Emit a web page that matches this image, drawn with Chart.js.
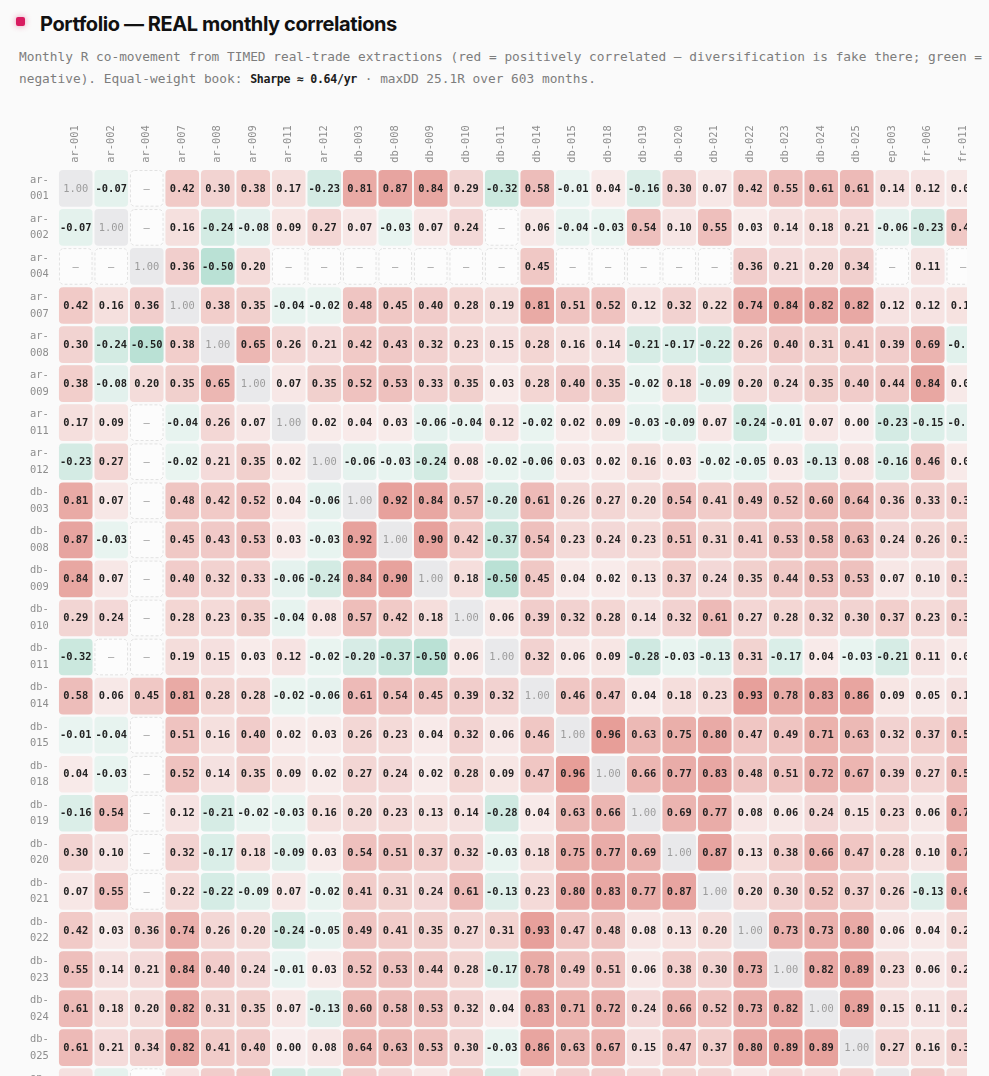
<!DOCTYPE html>
<html>
<head>
<meta charset="utf-8">
<script src="https://cdn.jsdelivr.net/npm/chart.js@4.4.1/dist/chart.umd.min.js"></script>
<style>
  html, body { margin:0; padding:0; background:#fafafa; width:989px; height:1076px; overflow:hidden; }
  #bullet { position:absolute; left:16px; top:17px; width:9px; height:9px; border-radius:2px; background:#d81b60; box-shadow:0 0 6px rgba(216,27,96,0.45); }
  #title { position:absolute; left:40px; top:11.5px; font:700 20px Inter, "Noto Sans", sans-serif; color:#111; letter-spacing:-0.4px; white-space:nowrap; }
  #sub { position:absolute; left:19px; top:46px; font:400 12.8px "DejaVu Sans Mono", monospace; line-height:22px; color:#7d7d7d; white-space:nowrap; }
  #sub b { color:#1c1c1c; font-weight:700; font-size:11.6px; letter-spacing:-0.3px; }
  #wrap { position:absolute; left:0; top:100px; width:967px; height:976px; overflow:hidden; }
  canvas { display:block; }
</style>
</head>
<body>
<div id="bullet"></div>
<div id="title">Portfolio — REAL monthly correlations</div>
<div id="sub">Monthly R co-movement from TIMED real-trade extractions (red = positively correlated — diversification is fake there; green =<br>negative). Equal-weight book: <b>Sharpe ≈ 0.64/yr</b> · maxDD 25.1R over 603 months.</div>
<div id="wrap"><canvas id="c" width="990" height="1010"></canvas></div>
<script>
// Strategies (columns); rows are the first 24 of them
const strategies = ['ar-001','ar-002','ar-004','ar-007','ar-008','ar-009','ar-011','ar-012','db-003','db-008','db-009','db-010','db-011','db-014','db-015','db-018','db-019','db-020','db-021','db-022','db-023','db-024','db-025','ep-003','fr-006','fr-011'];
const rowLabels = strategies.slice(0, 24);

// Correlation rows (null = not enough overlap, shown as "—")
const r_ar001 = [1.00,-0.07,null,0.42,0.30,0.38,0.17,-0.23,0.81,0.87,0.84,0.29,-0.32,0.58,-0.01,0.04,-0.16,0.30,0.07,0.42,0.55,0.61,0.61,0.14,0.12,0.06];
const r_ar002 = [-0.07,1.00,null,0.16,-0.24,-0.08,0.09,0.27,0.07,-0.03,0.07,0.24,null,0.06,-0.04,-0.03,0.54,0.10,0.55,0.03,0.14,0.18,0.21,-0.06,-0.23,0.45];
const r_ar004 = [null,null,1.00,0.36,-0.50,0.20,null,null,null,null,null,null,null,0.45,null,null,null,null,null,0.36,0.21,0.20,0.34,null,0.11,null];
const r_ar007 = [0.42,0.16,0.36,1.00,0.38,0.35,-0.04,-0.02,0.48,0.45,0.40,0.28,0.19,0.81,0.51,0.52,0.12,0.32,0.22,0.74,0.84,0.82,0.82,0.12,0.12,0.13];
const r_ar008 = [0.30,-0.24,-0.50,0.38,1.00,0.65,0.26,0.21,0.42,0.43,0.32,0.23,0.15,0.28,0.16,0.14,-0.21,-0.17,-0.22,0.26,0.40,0.31,0.41,0.39,0.69,-0.10];
const r_ar009 = [0.38,-0.08,0.20,0.35,0.65,1.00,0.07,0.35,0.52,0.53,0.33,0.35,0.03,0.28,0.40,0.35,-0.02,0.18,-0.09,0.20,0.24,0.35,0.40,0.44,0.84,0.05];
const r_ar011 = [0.17,0.09,null,-0.04,0.26,0.07,1.00,0.02,0.04,0.03,-0.06,-0.04,0.12,-0.02,0.02,0.09,-0.03,-0.09,0.07,-0.24,-0.01,0.07,0.00,-0.23,-0.15,-0.08];
const r_ar012 = [-0.23,0.27,null,-0.02,0.21,0.35,0.02,1.00,-0.06,-0.03,-0.24,0.08,-0.02,-0.06,0.03,0.02,0.16,0.03,-0.02,-0.05,0.03,-0.13,0.08,-0.16,0.46,0.04];
const r_db003 = [0.81,0.07,null,0.48,0.42,0.52,0.04,-0.06,1.00,0.92,0.84,0.57,-0.20,0.61,0.26,0.27,0.20,0.54,0.41,0.49,0.52,0.60,0.64,0.36,0.33,0.33];
const r_db008 = [0.87,-0.03,null,0.45,0.43,0.53,0.03,-0.03,0.92,1.00,0.90,0.42,-0.37,0.54,0.23,0.24,0.23,0.51,0.31,0.41,0.53,0.58,0.63,0.24,0.26,0.31];
const r_db009 = [0.84,0.07,null,0.40,0.32,0.33,-0.06,-0.24,0.84,0.90,1.00,0.18,-0.50,0.45,0.04,0.02,0.13,0.37,0.24,0.35,0.44,0.53,0.53,0.07,0.10,0.30];
const r_db010 = [0.29,0.24,null,0.28,0.23,0.35,-0.04,0.08,0.57,0.42,0.18,1.00,0.06,0.39,0.32,0.28,0.14,0.32,0.61,0.27,0.28,0.32,0.30,0.37,0.23,0.34];
const r_db011 = [-0.32,null,null,0.19,0.15,0.03,0.12,-0.02,-0.20,-0.37,-0.50,0.06,1.00,0.32,0.06,0.09,-0.28,-0.03,-0.13,0.31,-0.17,0.04,-0.03,-0.21,0.11,0.02];
const r_db014 = [0.58,0.06,0.45,0.81,0.28,0.28,-0.02,-0.06,0.61,0.54,0.45,0.39,0.32,1.00,0.46,0.47,0.04,0.18,0.23,0.93,0.78,0.83,0.86,0.09,0.05,0.14];
const r_db015 = [-0.01,-0.04,null,0.51,0.16,0.40,0.02,0.03,0.26,0.23,0.04,0.32,0.06,0.46,1.00,0.96,0.63,0.75,0.80,0.47,0.49,0.71,0.63,0.32,0.37,0.52];
const r_db018 = [0.04,-0.03,null,0.52,0.14,0.35,0.09,0.02,0.27,0.24,0.02,0.28,0.09,0.47,0.96,1.00,0.66,0.77,0.83,0.48,0.51,0.72,0.67,0.39,0.27,0.55];
const r_db019 = [-0.16,0.54,null,0.12,-0.21,-0.02,-0.03,0.16,0.20,0.23,0.13,0.14,-0.28,0.04,0.63,0.66,1.00,0.69,0.77,0.08,0.06,0.24,0.15,0.23,0.06,0.74];
const r_db020 = [0.30,0.10,null,0.32,-0.17,0.18,-0.09,0.03,0.54,0.51,0.37,0.32,-0.03,0.18,0.75,0.77,0.69,1.00,0.87,0.13,0.38,0.66,0.47,0.28,0.10,0.72];
const r_db021 = [0.07,0.55,null,0.22,-0.22,-0.09,0.07,-0.02,0.41,0.31,0.24,0.61,-0.13,0.23,0.80,0.83,0.77,0.87,1.00,0.20,0.30,0.52,0.37,0.26,-0.13,0.68];
const r_db022 = [0.42,0.03,0.36,0.74,0.26,0.20,-0.24,-0.05,0.49,0.41,0.35,0.27,0.31,0.93,0.47,0.48,0.08,0.13,0.20,1.00,0.73,0.73,0.80,0.06,0.04,0.22];
const r_db023 = [0.55,0.14,0.21,0.84,0.40,0.24,-0.01,0.03,0.52,0.53,0.44,0.28,-0.17,0.78,0.49,0.51,0.06,0.38,0.30,0.73,1.00,0.82,0.89,0.23,0.06,0.21];
const r_db024 = [0.61,0.18,0.20,0.82,0.31,0.35,0.07,-0.13,0.60,0.58,0.53,0.32,0.04,0.83,0.71,0.72,0.24,0.66,0.52,0.73,0.82,1.00,0.89,0.15,0.11,0.24];
const r_db025 = [0.61,0.21,0.34,0.82,0.41,0.40,0.00,0.08,0.64,0.63,0.53,0.30,-0.03,0.86,0.63,0.67,0.15,0.47,0.37,0.80,0.89,0.89,1.00,0.27,0.16,0.32];
const r_ep003 = [0.14,-0.06,null,0.12,0.39,0.44,-0.23,-0.16,0.36,0.24,0.07,0.37,-0.21,0.09,0.32,0.39,0.23,0.28,0.26,0.06,0.23,0.15,0.27,1.00,0.41,0.18];
const corrRows = [r_ar001,r_ar002,r_ar004,r_ar007,r_ar008,r_ar009,r_ar011,r_ar012,r_db003,r_db008,r_db009,r_db010,r_db011,r_db014,r_db015,r_db018,r_db019,r_db020,r_db021,r_db022,r_db023,r_db024,r_db025,r_ep003];

const MONO = '"DejaVu Sans Mono", monospace';

const cells = [];
corrRows.forEach((row, r) => row.forEach((v, c) => cells.push({ x: strategies[c], y: rowLabels[r], v: v, diag: r === c })));

function fillFor(v) {
  const a = 0.08 + 0.46 * Math.min(1, Math.abs(v));
  return v >= 0 ? `rgba(210,70,60,${a})` : `rgba(40,165,125,${a})`;
}

const cellPlugin = {
  id: 'cells',
  beforeDatasetsDraw(chart) {
    const { ctx, scales: { x, y } } = chart;
    const meta = chart.getDatasetMeta(0);
    const bw = x.width / strategies.length;
    const bh = y.height / rowLabels.length;
    const w = bw - 1.9, h = bh - 2.4;
    ctx.save();
    ctx.textAlign = 'center';
    ctx.textBaseline = 'middle';
    meta.data.forEach((pt, i) => {
      const d = chart.data.datasets[0].data[i];
      const x0 = pt.x - w / 2, y0 = pt.y - h / 2;
      ctx.beginPath();
      ctx.roundRect(x0, y0, w, h, 4);
      if (d.v === null) {
        ctx.fillStyle = '#fcfcfc';
        ctx.fill();
        ctx.setLineDash([3, 2]);
        ctx.strokeStyle = '#e2e2e2';
        ctx.lineWidth = 1;
        ctx.beginPath();
        ctx.roundRect(x0 + 0.5, y0 + 0.5, w - 1, h - 1, 4);
        ctx.stroke();
        ctx.setLineDash([]);
        ctx.fillStyle = '#9a9a9a';
        ctx.font = '400 10.4px ' + MONO;
        ctx.fillText('—', pt.x, pt.y + 0.5);
      } else if (d.diag) {
        ctx.fillStyle = '#e9e9eb';
        ctx.fill();
        ctx.fillStyle = '#9c9c9c';
        ctx.font = '400 10.4px ' + MONO;
        ctx.fillText(d.v.toFixed(2), pt.x, pt.y + 0.5);
      } else {
        ctx.fillStyle = '#fcfcfc';
        ctx.fill();
        ctx.fillStyle = fillFor(d.v);
        ctx.fill();
        ctx.fillStyle = '#222';
        ctx.font = '700 10.4px ' + MONO;
        ctx.fillText(d.v.toFixed(2), pt.x, pt.y + 0.5);
      }
    });
    ctx.restore();
  }
};

new Chart(document.getElementById('c'), {
  type: 'scatter',
  data: {
    datasets: [{ data: cells, pointRadius: 0, pointHoverRadius: 0 }]
  },
  options: {
    responsive: false,
    animation: false,
    events: [],
    devicePixelRatio: 1,
    layout: { padding: { left: 30, right: 9, top: 0, bottom: 3.8 } },
    plugins: { legend: { display: false }, tooltip: { enabled: false } },
    scales: {
      x: {
        type: 'category',
        labels: strategies,
        position: 'top',
        offset: true,
        grid: { display: false, drawTicks: false },
        border: { display: false },
        ticks: {
          autoSkip: false, minRotation: 90, maxRotation: 90, padding: 6, labelOffset: 12.5,
          color: '#8d8d8d', font: { family: MONO, size: 10.4, lineHeight: 1.2 }
        },
        afterFit(s) { s.height = 68.8; s.paddingLeft = 0; s.paddingRight = 0; }
      },
      y: {
        type: 'category',
        labels: rowLabels,
        offset: true,
        grid: { display: false, drawTicks: false },
        border: { display: false },
        ticks: {
          autoSkip: false, crossAlign: 'far', padding: 0,
          color: '#8d8d8d', font: { family: MONO, size: 10.4, lineHeight: 1.6 },
          callback(v) { const s = rowLabels[v]; return [s.slice(0, 3), s.slice(3)]; }
        },
        afterFit(s) { s.width = 28; s.paddingTop = 0; s.paddingBottom = 0; }
      }
    }
  },
  plugins: [cellPlugin]
});
</script>
</body>
</html>
